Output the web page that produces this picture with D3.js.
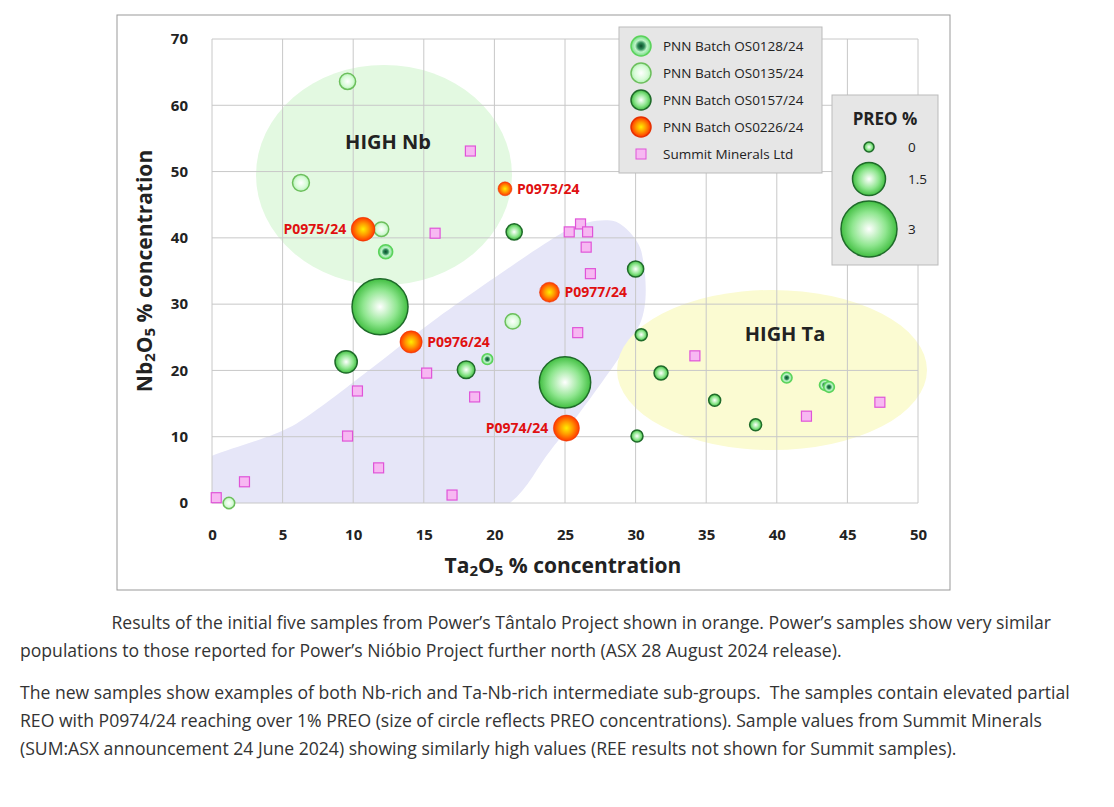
<!DOCTYPE html><html><head><meta charset="utf-8">
<script src="https://cdn.jsdelivr.net/npm/d3@7"></script>
<style>body{margin:0;background:#fff;font-family:"Open Sans",sans-serif}
.cap{position:absolute;left:20px;width:1060px;font-size:17.6px;color:#333;line-height:28px}</style></head><body>
<svg id="c" width="1114" height="600" style="position:absolute;left:0;top:0"></svg>
<div class="cap" style="top:608px">&nbsp;&nbsp;&nbsp;&nbsp;&nbsp;&nbsp;&nbsp;&nbsp;&nbsp;&nbsp;&nbsp;&nbsp;&nbsp;&nbsp;&nbsp;&nbsp;&nbsp;&nbsp;&nbsp;&nbsp;Results of the initial five samples from Power’s Tântalo Project shown in orange. Power’s samples show very similar populations to those reported for Power’s Nióbio Project further north (ASX 28 August 2024 release).</div>
<div class="cap" style="top:678px">The new samples show examples of both Nb-rich and Ta-Nb-rich intermediate sub-groups.&nbsp; The samples contain elevated partial REO with P0974/24 reaching over 1% PREO (size of circle reflects PREO concentrations). Sample values from Summit Minerals (SUM:ASX announcement 24 June 2024) showing similarly high values (REE results not shown for Summit samples).</div>
<script>
const xTicks=[0,5,10,15,20,25,30,35,40,45,50];
const yTicks=[0,10,20,30,40,50,60,70];
// [Ta2O5, Nb2O5, PREO]
const os0128=[[12.3,37.9,0.26],[19.5,21.7,0.05],[40.7,18.9,0.05],[43.4,17.8,0.05],[43.7,17.5,0.05]];
const os0135=[[9.6,63.6,0.4],[6.3,48.3,0.45],[12.0,41.3,0.3],[21.3,27.4,0.35],[1.2,0.0,0.1]];
const os0157=[[11.9,29.6,3.0],[9.5,21.3,0.8],[18.0,20.1,0.5],[21.4,40.9,0.4],[30.0,35.3,0.4],[25.0,18.2,2.7],[30.4,25.4,0.13],[31.8,19.6,0.26],[35.6,15.5,0.13],[38.5,11.8,0.13],[30.1,10.1,0.13]];
const os0226=[[20.75,47.4,0.26,"P0973/24"],[10.7,41.3,0.9,"P0975/24"],[23.9,31.8,0.65,"P0977/24"],[14.1,24.3,0.8,"P0976/24"],[25.1,11.3,1.05,"P0974/24"]];
const summit=[[18.3,53.1],[15.8,40.7],[25.3,40.9],[26.1,42.1],[26.6,40.9],[26.5,38.6],[26.8,34.6],[25.9,25.7],[10.3,16.9],[15.2,19.6],[18.6,16.0],[9.6,10.1],[11.8,5.3],[17.0,1.2],[2.3,3.2],[0.3,0.8],[34.2,22.2],[42.1,13.1],[47.3,15.2]];
const labelSide={"P0973/24":"r","P0975/24":"l","P0977/24":"r","P0976/24":"r","P0974/24":"l"};
const legendItems=["PNN Batch OS0128/24","PNN Batch OS0135/24","PNN Batch OS0157/24","PNN Batch OS0226/24","Summit Minerals Ltd"];
const preoLegend=[0,1.5,3];
const bandOutline=[[-1,6],[-1,-2],[19,-2],[24,8],[30.3,27],[30.4,38],[28.5,42.5],[25,41],[16,28],[6,12]];

const svg=d3.select("#c");
const x=d3.scaleLinear().domain([0,50]).range([212,918]);
const y=d3.scaleLinear().domain([0,70]).range([503,39]);
const r=d3.scaleLinear().domain([0,3]).range([5,28]);
const defs=svg.append("defs");
function grad(id,stops){const g=defs.append("radialGradient").attr("id",id).attr("cx","50%").attr("cy","50%").attr("r","55%");
 stops.forEach(s=>g.append("stop").attr("offset",s[0]).attr("stop-color",s[1]));}
grad("g128",[["0%","#0a4a2a"],["30%","#2e8b57"],["55%","#bff5c9"],["100%","#5fd36f"]]);
grad("g135",[["0%","#ffffff"],["60%","#d8fbd8"],["100%","#a8eea8"]]);
grad("g157",[["0%","#ffffff"],["55%","#8fe68f"],["100%","#2fb52f"]]);
grad("g226",[["0%","#ffee00"],["45%","#ff9900"],["100%","#ff2200"]]);
defs.append("clipPath").attr("id","clip").append("rect").attr("x",212).attr("y",39).attr("width",706).attr("height",464);

svg.append("rect").attr("x",117).attr("y",15).attr("width",833).attr("height",575).attr("fill","#fff").attr("stroke","#999");
const cl=svg.append("g").attr("clip-path","url(#clip)");
cl.append("path").attr("d",d3.line().x(d=>x(d[0])).y(d=>y(d[1])).curve(d3.curveCardinalClosed.tension(0.3))(bandOutline)).attr("fill","#e6e6f8");
svg.append("ellipse").attr("cx",384).attr("cy",175).attr("rx",128).attr("ry",110).attr("fill","#e3f9e1");
svg.append("ellipse").attr("cx",772).attr("cy",370).attr("rx",155).attr("ry",80).attr("fill","#fbfbd2");
svg.append("g").selectAll("line").data(xTicks).join("line").attr("x1",d=>x(d)).attr("x2",d=>x(d)).attr("y1",39).attr("y2",503).attr("stroke","#c8c8c8");
svg.append("g").selectAll("line").data(yTicks).join("line").attr("y1",d=>y(d)).attr("y2",d=>y(d)).attr("x1",212).attr("x2",918).attr("stroke","#c8c8c8");
const xa=svg.append("g").attr("transform","translate(0,503)").call(d3.axisBottom(x).tickValues(xTicks).tickSize(0).tickPadding(26));
const ya=svg.append("g").attr("transform","translate(212,0)").call(d3.axisLeft(y).tickValues(yTicks).tickSize(0).tickPadding(24));
[xa,ya].forEach(a=>{a.select(".domain").remove();a.selectAll("text").attr("font-family","Open Sans").attr("font-size",15).attr("font-weight","bold").attr("fill","#222");});
svg.append("text").attr("x",563).attr("y",573).attr("text-anchor","middle").attr("font-size",21).attr("font-weight","bold").attr("fill","#222")
 .html('Ta<tspan baseline-shift="-20%" font-size="15">2</tspan>O<tspan baseline-shift="-20%" font-size="15">5</tspan> % concentration');
svg.append("text").attr("transform","translate(152,271) rotate(-90)").attr("text-anchor","middle").attr("font-size",21).attr("font-weight","bold").attr("fill","#222")
 .html('Nb<tspan baseline-shift="-20%" font-size="15">2</tspan>O<tspan baseline-shift="-20%" font-size="15">5</tspan> % concentration');
svg.append("text").attr("x",388).attr("y",149).attr("text-anchor","middle").attr("font-size",20).attr("font-weight","bold").attr("fill","#222").text("HIGH Nb");
svg.append("text").attr("x",785).attr("y",341).attr("text-anchor","middle").attr("font-size",20).attr("font-weight","bold").attr("fill","#222").text("HIGH Ta");

const pts=svg.append("g");
function circles(data,fill,stroke,sw){pts.append("g").selectAll("circle").data(data).join("circle")
 .attr("cx",d=>x(d[0])).attr("cy",d=>y(d[1])).attr("r",d=>r(d[2])).attr("fill",fill).attr("stroke",stroke).attr("stroke-width",sw);}
circles(os0157,"url(#g157)","#1f6b2a",1.5);
circles(os0135,"url(#g135)","#6cbf5c",1.5);
circles(os0128,"url(#g128)","#5ad35a",1.5);
circles(os0226,"url(#g226)","#e63000",0.5);
pts.append("g").selectAll("rect").data(summit).join("rect").attr("x",d=>x(d[0])-5).attr("y",d=>y(d[1])-5).attr("width",10).attr("height",10)
 .attr("fill","#f7b8f2").attr("stroke","#e054d8").attr("stroke-width",1.2);
svg.append("g").selectAll("text").data(os0226).join("text")
 .attr("x",d=>x(d[0])+(labelSide[d[3]]=="r"?r(d[2])+5:-r(d[2])-5)).attr("y",d=>y(d[1])+5)
 .attr("text-anchor",d=>labelSide[d[3]]=="r"?"start":"end").attr("font-size",14).attr("font-weight","bold").attr("fill","#e01010").text(d=>d[3]);

const lg=svg.append("g");
lg.append("rect").attr("x",619).attr("y",27).attr("width",203).attr("height",146).attr("fill","#e6e6e6").attr("stroke","#bbb");
const lf=[["url(#g128)","#5ad35a"],["url(#g135)","#6cbf5c"],["url(#g157)","#1f6b2a"],["url(#g226)","#e63000"]];
legendItems.forEach((t,i)=>{const cy=46+i*27;
 if(i<4) lg.append("circle").attr("cx",641).attr("cy",cy).attr("r",10).attr("fill",lf[i][0]).attr("stroke",lf[i][1]).attr("stroke-width",1.5);
 else lg.append("rect").attr("x",636).attr("y",cy-5).attr("width",10).attr("height",10).attr("fill","#f7b8f2").attr("stroke","#e054d8");
 lg.append("text").attr("x",663).attr("y",cy+5).attr("font-size",13.5).attr("fill","#222").text(t);});
lg.append("rect").attr("x",832).attr("y",95).attr("width",106).attr("height",170).attr("fill","#e6e6e6").attr("stroke","#bbb");
lg.append("text").attr("x",885).attr("y",125).attr("text-anchor","middle").attr("font-size",17).attr("font-weight","bold").attr("fill","#222").text("PREO %");
const ly=[147,179,229];
preoLegend.forEach((v,i)=>{lg.append("circle").attr("cx",869).attr("cy",ly[i]).attr("r",r(v)).attr("fill","url(#g157)").attr("stroke","#1f6b2a").attr("stroke-width",1.5);
 lg.append("text").attr("x",908).attr("y",ly[i]+5).attr("font-size",13.5).attr("fill","#222").text(v);});
</script></body></html>
